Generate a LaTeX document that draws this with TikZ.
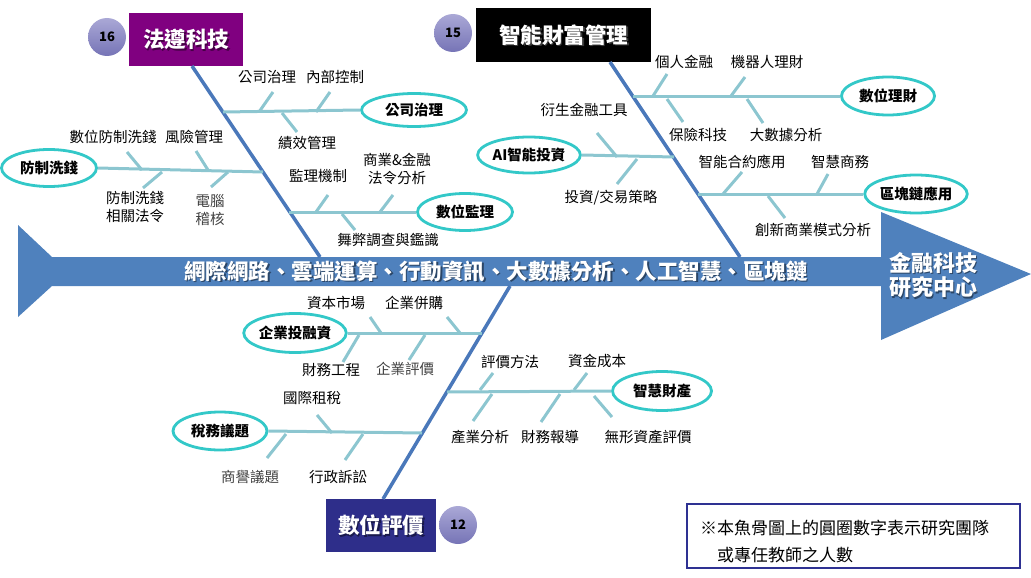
\documentclass[tikz,border=0pt]{standalone}
\usepackage{fontspec}
\setmainfont{Noto Sans CJK TC}
\usetikzlibrary{shapes.geometric}
\definecolor{arrowblue}{RGB}{79,129,189}
\definecolor{spineblue}{RGB}{74,120,186}
\definecolor{ribteal}{RGB}{140,198,208}
\definecolor{ovalteal}{RGB}{51,200,200}
\definecolor{purplebox}{RGB}{128,0,128}
\definecolor{navybox}{RGB}{46,46,138}
\definecolor{notenavy}{RGB}{46,49,146}
\definecolor{badgetop}{RGB}{170,168,214}
\definecolor{badgebot}{RGB}{118,116,182}
\definecolor{labgray}{RGB}{64,64,64}
\begin{document}
\begin{tikzpicture}[x=1pt,y=-1pt,
  spine/.style={line width=3.5pt, draw=spineblue},
  branch/.style={line width=3pt, draw=ribteal},
  rib/.style={line width=3pt, draw=ribteal},
  oval/.style={ellipse, draw=ovalteal, line width=2.8pt, fill=white, inner sep=0pt, font=\fontsize{14.5}{16}\selectfont\bfseries},
  lab/.style={font=\fontsize{14.5}{17.5}\selectfont, inner sep=0pt, align=center},
  glab/.style={lab, text=labgray},
  title/.style={font=\fontsize{21.5}{24}\selectfont\bfseries, text=white, inner sep=0pt},
  tshadow/.style={font=\fontsize{21.5}{24}\selectfont\bfseries, text=black, opacity=0.45, inner sep=0pt},
  badge/.style={circle, minimum size=38pt, inner sep=0pt, top color=badgetop, bottom color=badgebot, font=\fontsize{13}{14}\selectfont\bfseries},
  boxshape/.style={inner sep=0pt}
]
\useasboundingbox (0,0) rectangle (1031,578);

% main arrow
\fill[arrowblue] (18,225) -- (52,257) -- (881,257) -- (881,212) -- (1031,274) -- (881,340) -- (881,286) -- (52,286) -- (18,317) -- cycle;
\node[tshadow] (bandsh) at (497.5,272.5) {網際網路、雲端運算、行動資訊、大數據分析、人工智慧、區塊鏈};
\node[title] (band) at (496,271) {網際網路、雲端運算、行動資訊、大數據分析、人工智慧、區塊鏈};
\node[tshadow, align=center, font=\fontsize{22}{24.5}\selectfont\bfseries] (headsh) at (934.5,276.5) {金融科技\\研究中心};
\node[title, align=center, font=\fontsize{22}{24.5}\selectfont\bfseries] (head) at (933,275) {金融科技\\研究中心};

% title boxes
\node[boxshape, fill=purplebox, minimum width=114pt, minimum height=53pt] (b16) at (186,39.5) {};
\node[tshadow] (t16sh) at (187.5,41) {法遵科技};
\node[title] (t16) at (186,39.5) {法遵科技};
\node[boxshape, fill=black, minimum width=175pt, minimum height=54pt] (b15) at (563.5,35) {};
\node[tshadow, text=gray] (t15sh) at (565,36.5) {智能財富管理};
\node[title] (t15) at (563.5,35) {智能財富管理};
\node[boxshape, fill=navybox, minimum width=110pt, minimum height=53pt] (b12) at (381,525.5) {};
\node[tshadow] (t12sh) at (382.5,527) {數位評價};
\node[title] (t12) at (381,525.5) {數位評價};

\node[badge] (c16) at (107,37) {16};
\node[badge] (c15) at (453,33) {15};
\node[badge] (c12) at (458,525) {12};

% spines
\coordinate (s1top) at (192,66);  \coordinate (s1bot) at (320,257);
\coordinate (s2top) at (610,62);  \coordinate (s2bot) at (740,257);
\coordinate (s3top) at (383,499); \coordinate (s3bot) at (510,286);
\draw[spine] (s1top) -- (s1bot);
\draw[spine] (s2top) -- (s2bot);
\draw[spine] (s3top) -- (s3bot);

% junctions on spines
\coordinate (jA) at (223,112);
\coordinate (jB) at (263,172);
\coordinate (jC) at (289,212);
\coordinate (jD) at (674,157);
\coordinate (jE) at (633,96);
\coordinate (jF) at (698,194);
\coordinate (jG) at (482,333);
\coordinate (jH) at (422,433);
\coordinate (jI) at (447,392);

% ovals
\node[oval, minimum width=105pt, minimum height=33pt] (oA) at (414,110) {公司治理};
\node[oval, minimum width=95pt, minimum height=37pt] (oB) at (49,168) {防制洗錢};
\node[oval, minimum width=95pt, minimum height=37pt] (oC) at (465,212) {數位監理};
\node[oval, minimum width=92pt, minimum height=36pt] (oD) at (529,155) {AI智能投資};
\node[oval, minimum width=93pt, minimum height=38pt] (oE) at (888,96) {數位理財};
\node[oval, minimum width=93pt, minimum height=38pt] (oF) at (916,194) {區塊鏈應用};
\node[oval, minimum width=95pt, minimum height=39pt] (oG) at (295,333) {企業投融資};
\node[oval, minimum width=94pt, minimum height=38pt] (oH) at (220,431) {稅務議題};
\node[oval, minimum width=99pt, minimum height=39pt] (oI) at (662,391) {智慧財產};

% branch lines
\draw[branch] (jA) -- (oA.west);
\draw[branch] (oB.east) -- (jB);
\draw[branch] (jC) -- (oC.west);
\draw[branch] (oD.east) -- (jD);
\draw[branch] (jE) -- (oE.west);
\draw[branch] (jF) -- (oF.west);
\draw[branch] (oG.east) -- (jG);
\draw[branch] (oH.east) -- (jH);
\draw[branch] (jI) -- (oI.west);

% branch A ribs and labels
\node[lab] (lA1) at (267,77) {公司治理};
\node[lab] (lA2) at (335,77) {內部控制};
\node[lab] (lA3) at (307,143) {績效管理};
\draw[rib] (259,112) -- (273,92);
\draw[rib] (316,112) -- (330,92);
\draw[rib] (282,113) -- (297,132);

% branch B
\node[lab] (lB1) at (113,137) {數位防制洗錢};
\node[lab] (lB2) at (194,137) {風險管理};
\node[lab] (lB3) at (135,207) {防制洗錢\\相關法令};
\node[glab] (lB4) at (210,210) {電腦\\稽核};
\draw[rib] (142,170) -- (127,152);
\draw[rib] (208,170) -- (196,151);
\draw[rib] (162,172) -- (143,188);
\draw[rib] (228,172) -- (211,187);

% branch C
\node[lab] (lC1) at (318,176) {監理機制};
\node[lab] (lC2) at (397,169) {商業\&金融\\法令分析};
\node[lab] (lC3) at (388,240) {舞弊調查與鑑識};
\draw[rib] (316,212) -- (328,195);
\draw[rib] (380,212) -- (393,195);
\draw[rib] (342,214) -- (355,230);

% branch D
\node[lab] (lD1) at (584,110) {衍生金融工具};
\node[lab] (lD2) at (611,198) {投資/交易策略};
\draw[rib] (617,157) -- (597,133);
\draw[rib] (637,159) -- (617,184);

% branch E
\node[lab] (lE1) at (684,62) {個人金融};
\node[lab] (lE2) at (767,62) {機器人理財};
\node[lab] (lE3) at (698,135) {保險科技};
\node[lab] (lE4) at (786,135) {大數據分析};
\draw[rib] (653,96) -- (667,74);
\draw[rib] (731,96) -- (745,77);
\draw[rib] (667,99) -- (683,122);
\draw[rib] (747,99) -- (763,123);

% branch F
\node[lab] (lF1) at (742,162) {智能合約應用};
\node[lab] (lF2) at (840,162) {智慧商務};
\node[lab] (lF3) at (813,230) {創新商業模式分析};
\draw[rib] (723,194) -- (742,172);
\draw[rib] (817,194) -- (828,174);
\draw[rib] (768,196) -- (785,218);

% branch G
\node[lab] (lG1) at (336,303) {資本市場};
\node[lab] (lG2) at (414,303) {企業併購};
\node[lab] (lG3) at (331,370) {財務工程};
\node[glab] (lG4) at (405,369) {企業評價};
\draw[rib] (381,333) -- (370,317);
\draw[rib] (460,333) -- (447,317);
\draw[rib] (359,335) -- (343,362);
\draw[rib] (425,335) -- (409,360);

% branch H
\node[lab] (lH1) at (312,398) {國際租稅};
\node[glab] (lH2) at (250,477) {商譽議題};
\node[lab] (lH3) at (338,477) {行政訴訟};
\draw[rib] (332,433) -- (317,415);
\draw[rib] (286,434) -- (267,458);
\draw[rib] (363,434) -- (345,460);

% branch I
\node[lab] (lI1) at (510,362) {評價方法};
\node[lab] (lI2) at (597,361) {資金成本};
\node[lab] (lI3) at (480,437) {產業分析};
\node[lab] (lI4) at (550,437) {財務報導};
\node[lab] (lI5) at (648,437) {無形資產評價};
\draw[rib] (480,390) -- (493,373);
\draw[rib] (574,390) -- (587,373);
\draw[rib] (492,394) -- (473,421);
\draw[rib] (560,394) -- (541,422);
\draw[rib] (594,396) -- (612,417);

% note box
\node[draw=notenavy, line width=2pt, minimum width=333pt, minimum height=64pt, inner sep=0pt] (note) at (853.5,536) {};
\node[font=\fontsize{17}{20}\selectfont, anchor=west, inner sep=0pt] (note1) at (700,528) {※本魚骨圖上的圓圈數字表示研究團隊};
\node[font=\fontsize{17}{20}\selectfont, anchor=west, inner sep=0pt] (note2) at (717,555) {或專任教師之人數};
\end{tikzpicture}
\end{document}
